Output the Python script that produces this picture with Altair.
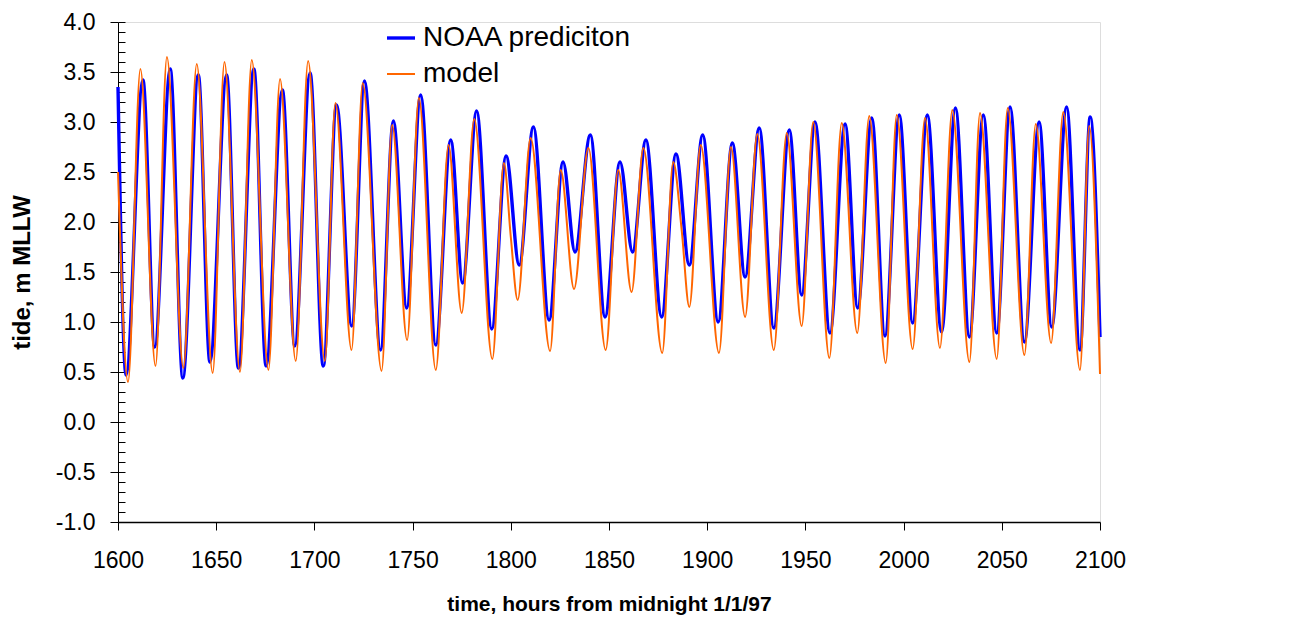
import altair as alt
import pandas as pd

# NOAA prediction: (hour, tide m MLLW) at extremes
noaa_t = [1600, 1604.1, 1612.7, 1618.7, 1626.6, 1633.0, 1640.9, 1646.8, 1655.3, 1661.3,
          1669.2, 1675.4, 1683.7, 1690.0, 1697.8, 1704.5, 1711.3, 1719.0, 1725.5, 1733.7,
          1740.2, 1747.0, 1754.1, 1761.8, 1769.4, 1775.5, 1782.6, 1790.3, 1797.6, 1804.3,
          1811.5, 1819.5, 1826.6, 1832.7, 1840.5, 1848.0, 1855.6, 1862.0, 1868.8, 1876.8,
          1884.1, 1890.9, 1897.7, 1905.6, 1912.8, 1919.3, 1926.5, 1933.9, 1941.8, 1948.1,
          1954.9, 1962.5, 1970.2, 1976.6, 1983.8, 1990.5, 1997.8, 2004.6, 2012.1, 2019.3,
          2026.4, 2033.5, 2040.6, 2047.4, 2054.2, 2061.5, 2069.0, 2075.4, 2083.0, 2089.8,
          2095.0, 2100]
noaa_v = [3.35, 0.47, 3.42, 0.75, 3.53, 0.44, 3.47, 0.60, 3.47, 0.54,
          3.53, 0.56, 3.32, 0.76, 3.49, 0.56, 3.17, 0.96, 3.41, 0.72,
          3.01, 1.14, 3.27, 0.77, 2.82, 1.39, 3.11, 0.93, 2.66, 1.57,
          2.95, 1.02, 2.60, 1.70, 2.87, 1.05, 2.60, 1.70, 2.82, 1.05,
          2.68, 1.57, 2.87, 1.00, 2.79, 1.45, 2.94, 0.94, 2.92, 1.27,
          3.00, 0.89, 2.98, 1.14, 3.04, 0.86, 3.07, 0.99, 3.07, 0.90,
          3.14, 0.85, 3.07, 0.89, 3.15, 0.80, 3.00, 0.95, 3.15, 0.72,
          3.05, 0.85]

# model
model_t = [1600, 1605.1, 1611.4, 1619.1, 1624.9, 1633.3, 1640.1, 1648.2, 1654.2, 1662.1,
           1668.1, 1676.6, 1682.5, 1690.5, 1696.8, 1705.3, 1710.7, 1718.9, 1724.6, 1734.2,
           1739.6, 1747.2, 1753.2, 1761.8, 1768.3, 1775.0, 1781.4, 1790.6, 1796.5, 1800.0,
           1803.5, 1810.1, 1820.0, 1825.4, 1832.2, 1839.5, 1848.3, 1854.7, 1861.5, 1867.5,
           1877.1, 1882.7, 1887.0, 1890.9, 1896.7, 1906.0, 1912.1, 1919.3, 1925.5, 1933.9,
           1940.5, 1948.1, 1954.0, 1962.2, 1968.5, 1976.4, 1982.5, 1990.9, 1996.5, 2004.6,
           2010.9, 2018.5, 2024.8, 2033.5, 2038.9, 2047.4, 2053.0, 2061.5, 2067.3, 2075.1,
           2081.3, 2089.8, 2094.5, 2100]
model_v = [2.50, 0.40, 3.53, 0.56, 3.65, 0.54, 3.58, 0.49, 3.60, 0.50,
           3.62, 0.52, 3.43, 0.61, 3.61, 0.61, 3.19, 0.72, 3.39, 0.51,
           2.97, 0.82, 3.24, 0.52, 2.77, 1.09, 3.03, 0.63, 2.59, 1.85,
           1.22, 2.84, 0.71, 2.52, 1.33, 2.74, 0.72, 2.52, 1.30, 2.74,
           0.69, 2.60, 1.92, 1.15, 2.77, 0.69, 2.75, 1.05, 2.88, 0.72,
           2.89, 0.96, 3.00, 0.64, 2.99, 0.89, 3.06, 0.59, 3.07, 0.73,
           3.04, 0.74, 3.12, 0.60, 3.09, 0.63, 3.14, 0.67, 2.98, 0.79,
           3.10, 0.52, 2.96, 0.48]

series_names = ["NOAA prediciton", "model"]
series_colors = ["#0000FF", "#FF6600"]
series_widths = [3.4, 2.0]

x_ticks = list(range(1600, 2101, 50))
y_ticks = [-1.0, -0.5, 0.0, 0.5, 1.0, 1.5, 2.0, 2.5, 3.0, 3.5, 4.0]
y_minor = [round(-1.0 + 0.1 * i, 1) for i in range(51)]

df = pd.concat([
    pd.DataFrame({"t": noaa_t, "v": noaa_v, "series": series_names[0], "order": 0}),
    pd.DataFrame({"t": model_t, "v": model_v, "series": series_names[1], "order": 1}),
], ignore_index=True)

FONT = "Liberation Sans"

x_enc = alt.X("t:Q", scale=alt.Scale(domain=[1600, 2100], nice=False, zero=False),
              axis=alt.Axis(values=x_ticks, format="d", title="time, hours from midnight 1/1/97",
                            tickSize=8, labelPadding=19, labelFontSize=23, labelFont=FONT,
                            labelColor="black", tickColor="black", domainColor="black",
                            domainWidth=1.5, labelFlush=False, grid=False,
                            titleFont=FONT, titleFontSize=21, titleFontWeight="bold",
                            titleColor="black", titleY=71))
y_scale = alt.Scale(domain=[-1, 4], nice=False, zero=False)

legend_kw = dict(title=None, orient="none", legendX=267, legendY=0,
                 symbolType="stroke", symbolSize=784, labelLimit=500,
                 labelFont=FONT, labelFontSize=28, labelColor="black",
                 labelOffset=6, rowPadding=7)

lines = alt.Chart(df).mark_line(interpolate="monotone").encode(
    x=x_enc,
    y=alt.Y("v:Q", scale=y_scale,
            axis=alt.Axis(values=y_ticks, orient="left", tickSize=8, labelPadding=15,
                          labelExpr="(datum.value < 0 ? '-' : '') + format(abs(datum.value), '.1f')",
                          labelFontSize=23, labelFont=FONT, labelColor="black",
                          tickColor="black", domainColor="black", grid=False,
                          title="tide, m MLLW", titleFont=FONT, titleFontSize=24,
                          titleFontWeight="bold", titleColor="black", titleX=-84, titleY=250)),
    color=alt.Color("series:N", scale=alt.Scale(domain=series_names, range=series_colors),
                    legend=alt.Legend(**legend_kw)),
    strokeWidth=alt.StrokeWidth("series:N",
                                scale=alt.Scale(domain=series_names, range=series_widths),
                                legend=alt.Legend(**legend_kw)),
    order=alt.Order("order:Q"),
)

minor = alt.Chart(df).mark_point(opacity=0).encode(
    x=x_enc,
    y=alt.Y("v:Q", scale=y_scale,
            axis=alt.Axis(values=y_minor, orient="left", offset=-7, tickSize=7, labels=False,
                          domain=False, grid=False, tickColor="black", title=None)),
)

chart = alt.layer(lines, minor).resolve_axis(y="independent").properties(
    width=982, height=500,
    autosize=alt.AutoSizeParams(type="none"),
    padding={"left": 110, "top": 14, "right": 40, "bottom": 95},
).configure_view(strokeWidth=0, stroke="transparent").configure(background="white")

chart.save("out.html", embed_options={"renderer": "svg", "actions": False})
